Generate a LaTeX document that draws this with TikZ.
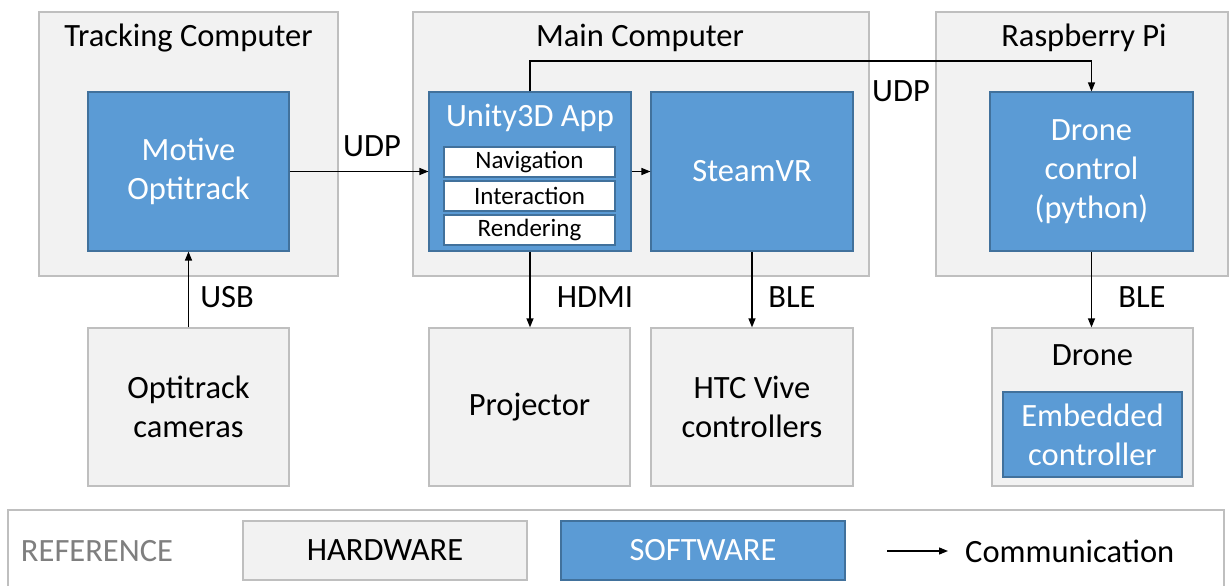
\documentclass[tikz,border=0pt]{standalone}
\usepackage{fontspec}
\setmainfont{Carlito}
\usetikzlibrary{arrows.meta}
\definecolor{hwfill}{HTML}{F2F2F2}
\definecolor{hwdraw}{HTML}{BFBFBF}
\definecolor{swfill}{HTML}{5B9BD5}
\definecolor{swdraw}{HTML}{41719C}
\definecolor{reftext}{HTML}{7F7F7F}
\tikzset{
  hw/.style={draw=hwdraw, fill=hwfill, line width=1.3pt, inner sep=0pt, align=center, font=\fontsize{32.5}{39}\selectfont},
  sw/.style={draw=swdraw, fill=swfill, line width=1.1pt, inner sep=0pt, text=white, align=center, font=\fontsize{32.5}{39}\selectfont},
  subbox/.style={draw=swdraw, fill=white, line width=1.1pt, inner sep=0pt, minimum width=171pt, minimum height=30pt, font=\fontsize{25}{30}\selectfont},
  lbl/.style={inner sep=0pt, align=center, font=\fontsize{32.5}{39}\selectfont},
  legtext/.style={font=\fontsize{32.5}{39}\selectfont},
  conn/.style={-{Triangle[length=9pt,width=7pt]}, line width=1.3pt},
}
\begin{document}
\begin{tikzpicture}[x=1pt,y=-1pt]
\useasboundingbox (0,0) rectangle (1229,586);
\clip (0,0) rectangle (1229,586);
% containers
\node[hw, minimum width=299pt, minimum height=264pt] (tc) at (188.5,144) {};
\node[hw, minimum width=456pt, minimum height=264pt] (mc) at (641,144) {};
\node[hw, minimum width=292pt, minimum height=264pt] (rp) at (1082,144) {};
\node[lbl] (tct) at (188.5,38) {Tracking Computer};
\node[lbl] (mct) at (640,38) {Main Computer};
\node[lbl] (rpt) at (1084,38) {Raspberry Pi};
% software boxes
\node[sw, minimum width=201pt, minimum height=159pt] (mot) at (188.5,171.5) {Motive\\Optitrack};
\node[sw, minimum width=202pt, minimum height=159pt] (unity) at (530,171.5) {};
\node[lbl, text=white] (unityt) at (530,118) {Unity3D App};
\node[subbox] (nav) at (529.5,162) {Navigation};
\node[subbox] (inter) at (529.5,196) {Interaction};
\node[subbox] (rend) at (529.5,230) {Rendering};
\node[sw, minimum width=202pt, minimum height=159pt] (steam) at (752,171.5) {SteamVR};
\node[sw, minimum width=203pt, minimum height=159pt] (dc) at (1091.5,171.5) {Drone\\control\\(python)};
% lower hardware
\node[hw, minimum width=201pt, minimum height=158pt] (cam) at (188.5,407) {Optitrack\\cameras};
\node[hw, minimum width=201pt, minimum height=158pt] (proj) at (529.5,407) {Projector};
\node[hw, minimum width=202pt, minimum height=158pt] (htc) at (752,407) {HTC Vive\\controllers};
\node[hw, minimum width=201pt, minimum height=158pt] (drone) at (1092.5,407) {};
\node[lbl] (dronet) at (1092.5,355) {Drone};
\node[sw, minimum width=179pt, minimum height=85pt] (emb) at (1092.5,434.5) {Embedded\\controller};
% connectors
\draw[conn] (mot.east) -- (unity.west);
\draw[conn] (unity.east) -- (steam.west);
\coordinate (udpy) at (0,61);
\draw[conn] (unity.north) -- (unity.north |- udpy) -| (dc.north);
\draw[conn] (unity.south) -- (unity.south |- proj.north);
\draw[conn] (steam.south) -- (steam.south |- htc.north);
\draw[conn] (dc.south) -- (dc.south |- drone.north);
\draw[conn] (cam.north) -- (cam.north |- mot.south);
\node[lbl] (udp1) at (372,146) {UDP};
\node[lbl] (udp2) at (901,91) {UDP};
\node[lbl] (usb) at (227,297) {USB};
\node[lbl] (hdmi) at (595,297) {HDMI};
\node[lbl] (ble1) at (792,297) {BLE};
\node[lbl] (ble2) at (1142,297) {BLE};
% legend
\node[draw=hwdraw, fill=white, line width=1.3pt, minimum width=1216pt, minimum height=90pt, inner sep=0pt] (leg) at (616,555) {};
\node[inner sep=0pt, text=reftext, legtext] (reft) at (97,551) {REFERENCE};
\node[hw, minimum width=284pt, minimum height=59pt, legtext] (hwk) at (385,550.5) {HARDWARE};
\node[sw, minimum width=284pt, minimum height=59pt, legtext] (swk) at (703,550.5) {SOFTWARE};
\coordinate (ca) at (887,551);
\coordinate (cb) at (948,551);
\draw[conn] (ca) -- (cb);
\node[inner sep=0pt, anchor=west, legtext] (comm) at (965,551) {Communication};
\end{tikzpicture}
\end{document}
